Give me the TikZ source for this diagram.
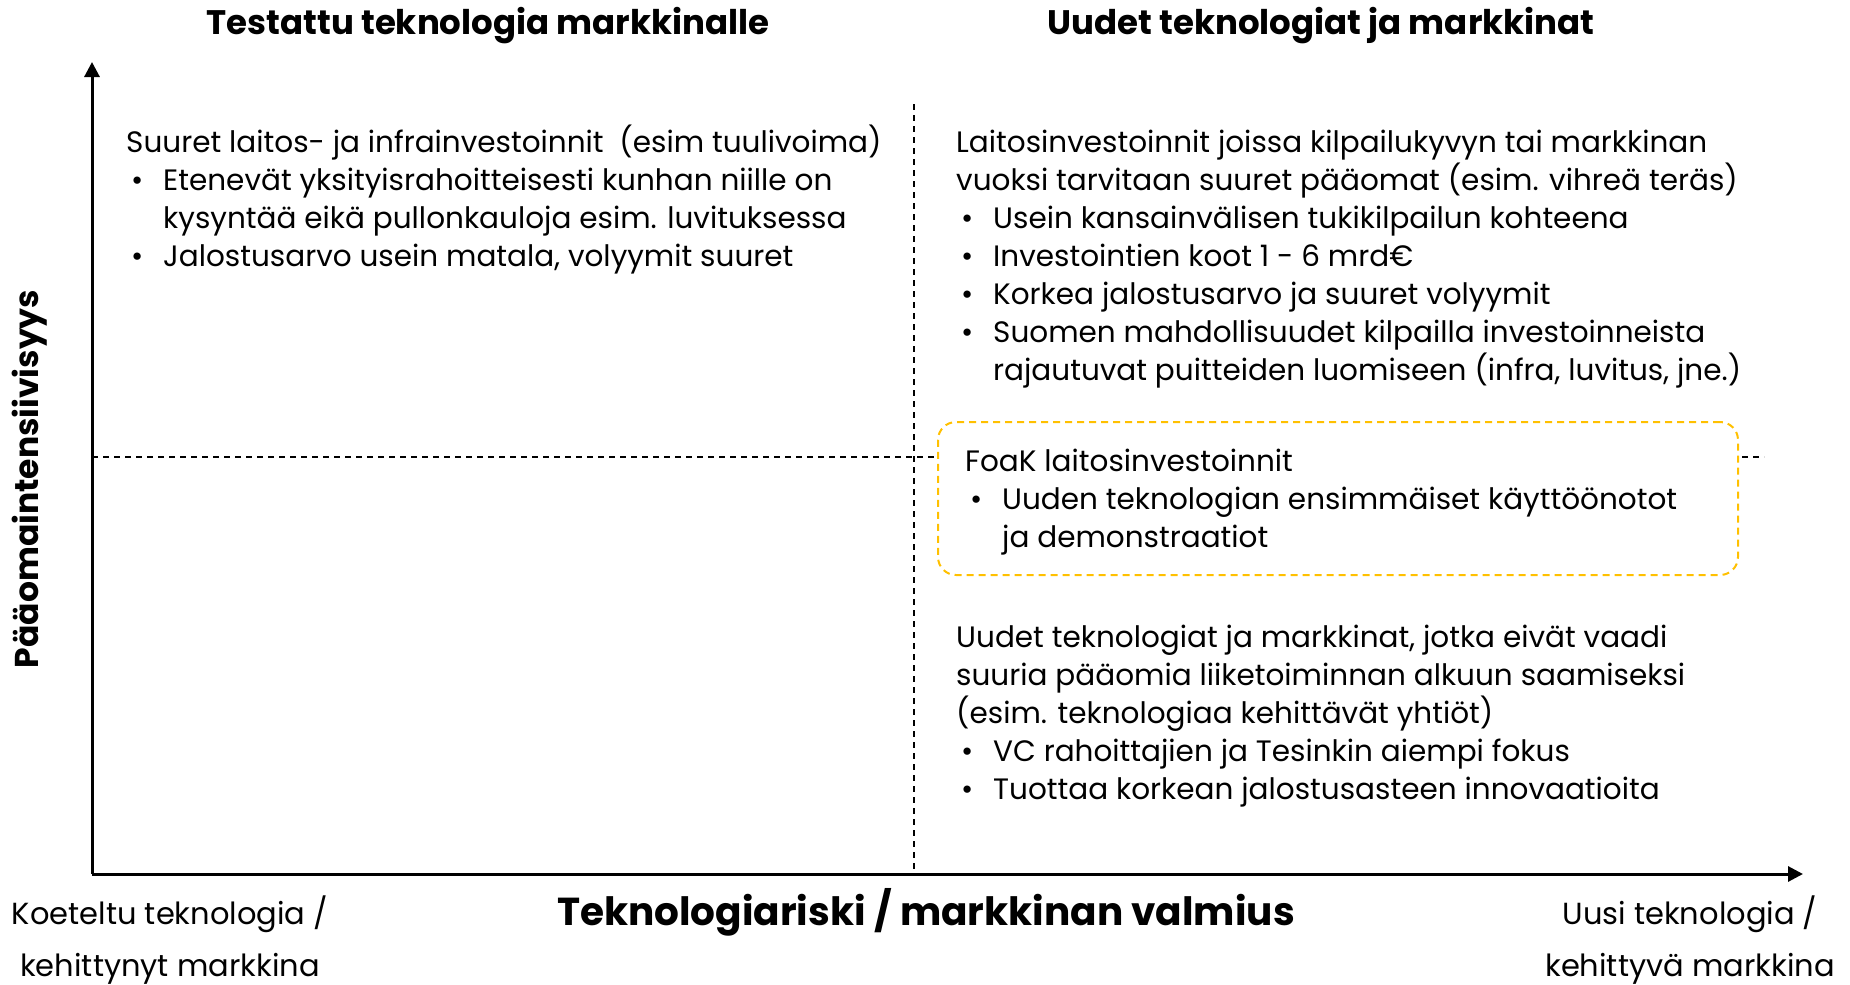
\documentclass[tikz,border=0pt]{standalone}
\usepackage{fontspec}
\setmainfont{Poppins}
\usetikzlibrary{arrows.meta}
\definecolor{foakgold}{HTML}{FFC000}
\newcommand{\bul}{\makebox[37pt][l]{\hspace{5pt}\textbullet}}
\newcommand{\ind}{\hspace*{37pt}}
\tikzset{
  axis/.style={line width=3pt,-{Triangle[length=15pt,width=15pt]}},
  divider/.style={line width=1.2pt,dash pattern=on 6pt off 5pt},
  foakbox/.style={draw=foakgold,line width=2pt,dash pattern=on 7pt off 5pt,
    fill=white,rounded corners=18pt,inner sep=0pt},
  body/.style={font=\fontsize{29.5}{38}\selectfont,align=left,inner sep=0pt,anchor=base west},
  heading/.style={font=\fontsize{34}{40}\selectfont\bfseries,inner sep=0pt},
  endlabel/.style={font=\fontsize{30.5}{52}\selectfont,align=center,inner sep=0pt}
}
\begin{document}
\begin{tikzpicture}[x=1pt,y=-1pt]
        \useasboundingbox (0,0) rectangle (1850,985);
        \def\lh{38}
        \coordinate (O) at (92,874);
        \coordinate (ytop) at (92,62);
        \coordinate (xend) at (1803,874);
        \coordinate (vtop) at (914,104);
        \coordinate (vbot) at (914,874);
        \coordinate (hleft) at (92,457);
        \coordinate (hright) at (1764,457);

        \draw[divider] (vtop) -- (vbot);
        \draw[divider] (hleft) -- (hright);
        \node[foakbox,anchor=north west,minimum width=800pt,minimum height=153pt] (foak) at (937,421) {};

        \draw[axis] (O) -- (ytop);
        \draw[axis] (O) -- (xend);

        \node[heading] (testattu) at (488,26) {Testattu teknologia markkinalle};
        \node[heading] (uudet) at (1321,26) {Uudet teknologiat ja markkinat};
        \node[heading,font=\fontsize{33}{38}\selectfont\bfseries,rotate=90] (ylabel) at (30,479) {Pääomaintensiivisyys};
        \node[heading,font=\fontsize{39}{44}\selectfont\bfseries] (xlabel) at (926,912) {Teknologiariski / markkinan valmius};
        \node[endlabel] (koeteltu) at (170,940) {Koeteltu teknologia /\\kehittynyt markkina};
        \node[endlabel] (uusi) at (1690,940) {Uusi teknologia /\\kehittyvä markkina};

        % base anchor sits on the last line
        \node[body] (infra) at (126,152+3*\lh) {Suuret laitos- ja infrainvestoinnit~~(esim tuulivoima)\\
          \bul Etenevät yksityisrahoitteisesti kunhan niille on\\
          \ind kysyntää eikä pullonkauloja esim. luvituksessa\\
          \bul Jalostusarvo usein matala, volyymit suuret};
        \node[body] (laitos) at (956,152+6*\lh) {Laitosinvestoinnit joissa kilpailukyvyn tai markkinan\\
          vuoksi tarvitaan suuret pääomat (esim. vihreä teräs)\\
          \bul Usein kansainvälisen tukikilpailun kohteena\\
          \bul Investointien koot 1 - 6 mrd€\\
          \bul Korkea jalostusarvo ja suuret volyymit\\
          \bul Suomen mahdollisuudet kilpailla investoinneista\\
          \ind rajautuvat puitteiden luomiseen (infra, luvitus, jne.)};
        \node[body] (foaktext) at (965,471+2*\lh) {FoaK laitosinvestoinnit\\
          \bul Uuden teknologian ensimmäiset käyttöönotot\\
          \ind ja demonstraatiot};
        \node[body] (startup) at (956,647+4*\lh) {Uudet teknologiat ja markkinat, jotka eivät vaadi\\
          suuria pääomia liiketoiminnan alkuun saamiseksi\\
          (esim. teknologiaa kehittävät yhtiöt)\\
          \bul VC rahoittajien ja Tesinkin aiempi fokus\\
          \bul Tuottaa korkean jalostusasteen innovaatioita};
      \end{tikzpicture}
\end{document}
